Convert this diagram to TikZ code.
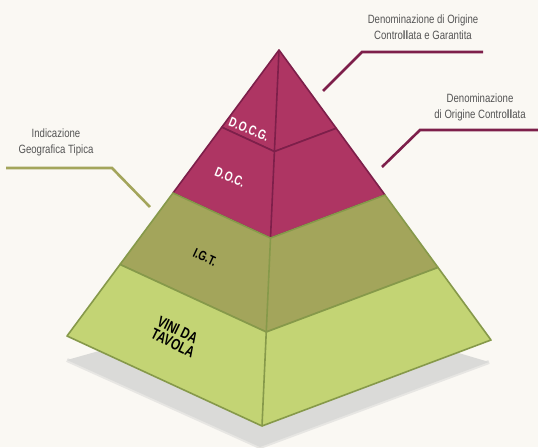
\documentclass[tikz,border=0pt]{standalone}
\usepackage{fontspec}
\setmainfont{Liberation Sans}
\newfontfamily\leadfont[FakeStretch=0.8]{Liberation Sans}
\newfontfamily\tierfont[FakeStretch=0.75]{Liberation Sans}
\usepackage{xcolor}
\usetikzlibrary{calc}

\definecolor{paper}{HTML}{FAF8F3}
\definecolor{docred}{HTML}{AE3563}
\definecolor{docline}{HTML}{7D1F4A}
\definecolor{igtgreen}{HTML}{A3A55B}
\definecolor{vdtgreen}{HTML}{C3D474}
\definecolor{vdtline}{HTML}{86994A}
\definecolor{leadgray}{HTML}{555555}
\definecolor{shadowgray}{HTML}{DADAD8}

\begin{document}
\begin{tikzpicture}[x=1pt,y=-1pt]
        \tikzset{leader/.style={line width=2.6pt},
            lead/.style={font=\leadfont\fontsize{12}{16}\selectfont,
                text=leadgray, align=center},
            tier/.style={font=\tierfont\bfseries\fontsize{13.5}{14}\selectfont}}

        \useasboundingbox[fill=paper] (0,0) rectangle (538,447);

        \coordinate (apex) at (279,50);
        \coordinate (bl) at (67,336);
        \coordinate (bf) at (262,426);
        \coordinate (br) at (491,340);

        % soft shadow under the base
        \draw[shadowgray!60!paper, line width=4pt, line join=round]
            (67,360) -- (260,447) -- (489,362);
        \fill[shadowgray] (67,360) -- (260,447) -- (489,362) -- (280,300) -- cycle;

        % the four tiers, top to bottom
        \foreach \ta/\tb/\col/\edge in {0/.27/docred/docline, .27/.5/docred/docline,
                .5/.75/igtgreen/vdtline, .75/1/vdtgreen/vdtline} {
            \draw[fill=\col, draw=\edge, line width=1.6pt, line join=round]
                ($(apex)!\ta!(bl)$) -- ($(apex)!\tb!(bl)$) -- ($(apex)!\tb!(bf)$)
                -- ($(apex)!\tb!(br)$) -- ($(apex)!\ta!(br)$) -- ($(apex)!\ta!(bf)$) -- cycle;
            \draw[\edge, line width=1.6pt] ($(apex)!\ta!(bf)$) -- ($(apex)!\tb!(bf)$);
        }

        \node[tier, text=white, rotate=-22] (docg) at (249,129) {D.O.C.G.};
        \node[tier, text=white, rotate=-22] (doc) at (230,177) {D.O.C.};
        \node[tier, rotate=-25] (igt) at (205,257) {I.G.T.};
        \node[tier, font=\tierfont\bfseries\fontsize{15.5}{14}\selectfont, align=left,
            rotate=-26] (vdt) at (176,337) {VINI DA\\TAVOLA};

        % captions and their leader lines
        \node[lead] (docgtext) at (423,27)
            {Denominazione di Origine\\Contro\textbf{ll}ata e Garantita};
        \node[lead] (doctext) at (480,107)
            {Denominazione\\di Origine Contro\textbf{ll}ata};
        \node[lead] (igttext) at (56,142) {Indicazione\\Geografica Tipica};

        \coordinate (docgtip) at (323,91);
        \coordinate (doctip) at (382,167);
        \coordinate (igttip) at (150,207);

        \draw[leader, docline] (docgtip) -- (362,52) -- (483,52);
        \draw[leader, docline] (doctip) -- (420,130) -- (538,130);
        \draw[leader, igtgreen] (igttip) -- (112,168) -- (6,168);

    \end{tikzpicture}
\end{document}
